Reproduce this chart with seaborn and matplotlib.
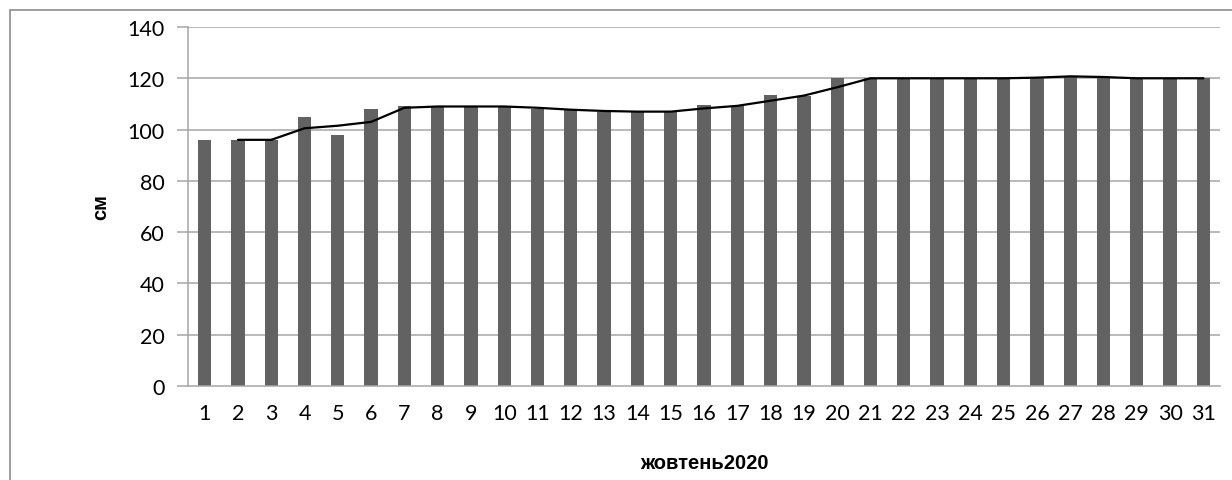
import matplotlib
matplotlib.use("Agg")
import matplotlib.pyplot as plt
from matplotlib.patches import Rectangle
import seaborn as sns
import pandas as pd
import numpy as np

# Daily depth readings, October 2020
days = [str(d) for d in range(1, 32)]
depth_cm = [96, 96, 96, 105, 98, 108, 109, 109, 109, 109,
            108, 107.5, 107, 107, 107, 109.5, 109, 113.5, 113, 120,
            120, 120, 120, 120, 120, 120.5, 121, 120, 120, 120, 120]
y_ticks = [0, 20, 40, 60, 80, 100, 120, 140]
x_title = "жовтень2020"
y_title = "см"

df = pd.DataFrame({"day": days, "depth": depth_cm})
# two-day moving average trend
df["trend"] = df["depth"].rolling(2).mean()

sns.set_theme(style="white")
plt.rcParams["font.family"] = ["Lato", "DejaVu Sans"]

fig = plt.figure(figsize=(12.32, 4.81), dpi=100)
ax = fig.add_axes([188 / 1232, 1 - 387 / 481, (1220 - 188) / 1232, (387 - 28) / 481])

grid_col = "#a6a6a6"
for t in y_ticks[1:]:
    ax.axhline(t, color=grid_col, lw=1.1, zorder=0)

sns.barplot(data=df, x="day", y="depth", color="#626262", width=0.4,
            saturation=1, ax=ax, zorder=2, edgecolor="none")

trend = df.dropna(subset=["trend"])
sns.lineplot(x=trend.index.to_numpy(), y=trend["trend"].to_numpy(),
             color="black", lw=1.6, ax=ax, zorder=3)

ax.set_xlim(-0.5, len(days) - 0.5)
ax.set_ylim(0, 140)
ax.set_yticks(y_ticks)
ax.set_yticklabels([str(t) for t in y_ticks])

for side in ["top", "right"]:
    ax.spines[side].set_visible(False)
for side in ["left", "bottom"]:
    ax.spines[side].set_color(grid_col)
    ax.spines[side].set_linewidth(1.1)

ax.tick_params(axis="y", which="major", length=8, width=1.1, color=grid_col,
               direction="out", left=True, pad=9, labelsize=15.5, labelcolor="black")
ax.tick_params(axis="x", which="major", length=0, pad=12, labelsize=15.5,
               labelcolor="black")

label_font = dict(family="Liberation Sans", fontsize=14.5,
                  fontweight="bold", color="black")
ax.set_xlabel(x_title, labelpad=22, **label_font)
ax.set_ylabel(y_title, labelpad=12, **label_font)

# chart frame
fig.patches.append(Rectangle((9.5 / 1232, -0.1), 1.2, 1 - 10.5 / 481 + 0.1,
                             transform=fig.transFigure, fill=False,
                             edgecolor="#8c8c8c", lw=1.2, zorder=0))

fig.savefig("out.png", dpi=100)
